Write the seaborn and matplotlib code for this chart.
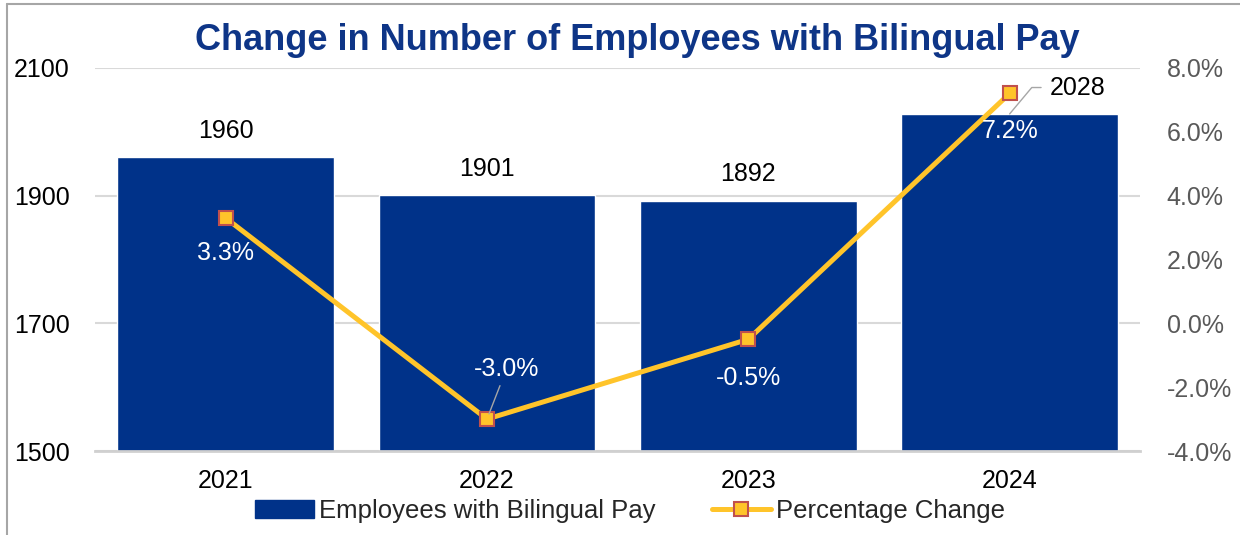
import matplotlib
matplotlib.use("Agg")
import matplotlib.pyplot as plt
import matplotlib.lines as mlines
import matplotlib.patches as mpatches
from matplotlib.ticker import FuncFormatter
import seaborn as sns
import pandas as pd

# data
years = ["2021", "2022", "2023", "2024"]
employees = [1960, 1901, 1892, 2028]
pct_change = [3.3, -3.0, -0.5, 7.2]

BAR_COLOR = "#003289"
LINE_COLOR = "#FFC42A"
EDGE_COLOR = "#C0504D"
TITLE_COLOR = "#0E3587"

sns.set_style("white")
plt.rcParams["font.family"] = ["Liberation Sans", "DejaVu Sans"]

df = pd.DataFrame({"year": years, "employees": employees, "pct": pct_change})

fig = plt.figure(figsize=(12.4, 5.35), dpi=100)
ax = fig.add_axes([0.0766, 0.157, 0.843, 0.716])

# bars - employees
sns.barplot(data=df, x="year", y="employees", color=BAR_COLOR, width=0.83,
            saturation=1, ax=ax, zorder=2)
ax.set_ylim(1500, 2100)
ax.set_xlim(-0.5, 3.5)
ax.set_yticks([1500, 1700, 1900, 2100])
ax.yaxis.grid(True, color="#D9D9D9", linewidth=1.5, zorder=0)
ax.set_axisbelow(True)
ax.set_xlabel("")
ax.set_ylabel("")
for s in ["top", "right", "left"]:
    ax.spines[s].set_visible(False)
ax.spines["bottom"].set_color("#D0D0D0")
ax.spines["bottom"].set_linewidth(2)
ax.tick_params(axis="both", length=0, labelsize=18, colors="black", pad=13)
ax.tick_params(axis="y", pad=18)

# line - percentage change (secondary axis)
ax2 = ax.twinx()
sns.lineplot(x=list(range(len(years))), y=pct_change, ax=ax2, color=LINE_COLOR,
             linewidth=3.6, marker="s", markersize=10, markerfacecolor=LINE_COLOR,
             markeredgecolor=EDGE_COLOR, markeredgewidth=1.5, zorder=3)
ax2.set_ylim(-4, 8)
ax2.set_yticks([-4, -2, 0, 2, 4, 6, 8])
ax2.yaxis.set_major_formatter(FuncFormatter(lambda v, p: f"{v:.1f}%"))
ax2.tick_params(axis="y", length=0, labelsize=18, colors="#595959", pad=19)
for s in ax2.spines.values():
    s.set_visible(False)
ax2.set_xlim(-0.5, 3.5)

# bar labels
for i, v in enumerate(employees):
    if i == 3:
        ax.annotate(str(v), xy=(i, v), xytext=(29, 19), textcoords="offset points",
                    ha="left", va="center", fontsize=18, color="black",
                    arrowprops=dict(arrowstyle="-", color="#A6A6A6", lw=1,
                                    shrinkA=4, shrinkB=0, relpos=(0, 0.5),
                                    connectionstyle="angle,angleA=0,angleB=50,rad=0"))
    else:
        ax.annotate(str(v), xy=(i, v), xytext=(0, 19), textcoords="offset points",
                    ha="center", va="center", fontsize=18, color="black")

# percentage labels
pct_offsets = [(0, -25), (14, 36), (0, -28), (0, -27)]
for i, v in enumerate(pct_change):
    dx, dy = pct_offsets[i]
    kw = {}
    if i == 1:
        kw["arrowprops"] = dict(arrowstyle="-", color="#A6A6A6", lw=1,
                                shrinkA=1, shrinkB=4)
    ax2.annotate(f"{v:.1f}%", xy=(i, v), xytext=(dx, dy), textcoords="offset points",
                 ha="center", va="center", fontsize=18, color="white", zorder=5, **kw)

# title
fig.text(0.514, 0.925, "Change in Number of Employees with Bilingual Pay",
         ha="center", va="center", fontsize=26, fontweight="bold", color=TITLE_COLOR)

# legend
bar_handle = mpatches.Patch(color=BAR_COLOR, label="Employees with Bilingual Pay")
line_handle = mlines.Line2D([], [], color=LINE_COLOR, linewidth=3.6, marker="s",
                            markersize=10, markerfacecolor=LINE_COLOR,
                            markeredgecolor=EDGE_COLOR, markeredgewidth=1.5,
                            label="Percentage Change")
fig.legend(handles=[bar_handle, line_handle], loc="center", bbox_to_anchor=(0.508, 0.045),
           ncol=2, frameon=False, fontsize=18.5, handlelength=2.3, handletextpad=0.2,
           columnspacing=2.2)

# chart-area border (left and top edges visible in the reference)
fig.add_artist(mlines.Line2D([0.006, 0.006], [0, 0.993], color="#A6A6A6", lw=1.5,
                             transform=fig.transFigure))
fig.add_artist(mlines.Line2D([0.006, 1], [0.993, 0.993], color="#A6A6A6", lw=1.5,
                             transform=fig.transFigure))

fig.savefig("out.png", dpi=100)
